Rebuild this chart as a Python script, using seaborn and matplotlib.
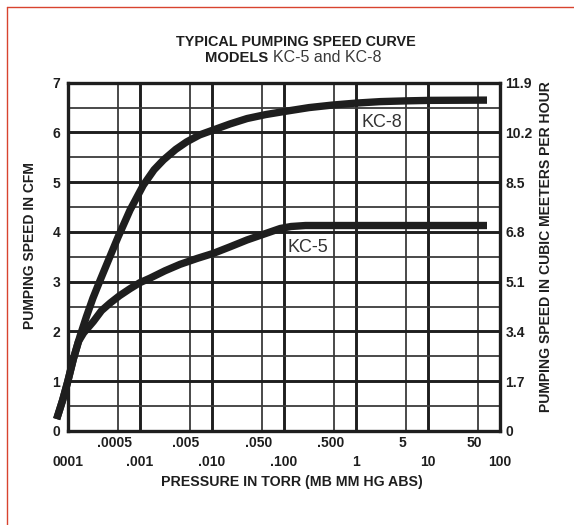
import numpy as np
import pandas as pd
import matplotlib
matplotlib.use("Agg")
import matplotlib.pyplot as plt
import matplotlib.transforms as mtransforms
from matplotlib.lines import Line2D
import seaborn as sns

# values
kc8_torr = [7.03e-5, 8.51e-5, 1.0e-4, 1.20e-4, 1.48e-4, 1.82e-4, 2.24e-4, 2.82e-4,
            3.55e-4, 5.01e-4, 7.33e-4, 1.12e-3, 1.58e-3, 2.14e-3, 3.16e-3, 4.47e-3,
            6.76e-3, 1.05e-2, 1.78e-2, 3.09e-2, 5.62e-2, 0.1, 0.224, 0.468,
            1.0, 2.19, 5.01, 10.7, 66]
kc8_cfm = [0.24, 0.62, 0.99, 1.45, 1.9, 2.3, 2.67, 3.03,
           3.38, 3.9, 4.44, 4.94, 5.25, 5.45, 5.66, 5.81,
           5.95, 6.05, 6.17, 6.28, 6.36, 6.42, 6.5, 6.55,
           6.59, 6.62, 6.635, 6.645, 6.65]

kc5_torr = [7.03e-5, 8.51e-5, 1.0e-4, 1.20e-4, 1.41e-4, 1.66e-4, 2.27e-4, 2.95e-4,
            3.87e-4, 5.25e-4, 7.33e-4, 1.0e-3, 1.38e-3, 2.24e-3, 3.63e-3, 6.31e-3,
            1.05e-2, 1.78e-2, 3.09e-2, 5.62e-2, 8.91e-2, 0.126, 0.2, 1.0, 66]
kc5_cfm = [0.24, 0.62, 0.99, 1.45, 1.8, 1.97, 2.2, 2.42,
           2.57, 2.72, 2.86, 2.98, 3.07, 3.22, 3.35, 3.47,
           3.57, 3.7, 3.84, 3.97, 4.07, 4.11, 4.13, 4.13, 4.13]

major_x = [1e-4, 1e-3, 1e-2, 1e-1, 1, 10, 100]
major_x_labels = ["0001", ".001", ".010", ".100", "1", "10", "100"]
minor_x = [5e-4, 5e-3, 5e-2, 0.5, 5, 50]
minor_x_labels = [".0005", ".005", ".050", ".500", "5", "50"]
cfm_ticks = [0, 1, 2, 3, 4, 5, 6, 7]
cmh_labels = ["0", "1.7", "3.4", "5.1", "6.8", "8.5", "10.2", "11.9"]

df = pd.concat([
    pd.DataFrame({"torr": kc8_torr, "cfm": kc8_cfm, "model": "KC-8"}),
    pd.DataFrame({"torr": kc5_torr, "cfm": kc5_cfm, "model": "KC-5"}),
])

sns.set_theme(style="white")
plt.rcParams["font.family"] = ["Liberation Sans", "DejaVu Sans"]
ink = "#1e1e1e"

fig = plt.figure(figsize=(5.74, 5.25), dpi=100)
ax = fig.add_axes([67.7 / 574, 1 - 431 / 525, (500 - 67.7) / 574, (431 - 82.7) / 525])
ax.set_xscale("log")
ax.set_xlim(1e-4, 100)
ax.set_ylim(0, 7)
ax.set_axisbelow(True)

sns.lineplot(data=df, x="torr", y="cfm", hue="model", palette=[ink, ink],
             linewidth=5.3, legend=False, ax=ax, sort=True)
for ln in ax.lines:
    ln.set_clip_on(False)
    ln.set_solid_capstyle("butt")
    ln.set_solid_joinstyle("round")

# grid
ax.set_xticks(major_x)
ax.set_xticklabels(major_x_labels)
ax.set_xticks(minor_x, minor=True)
ax.set_xticklabels(minor_x_labels, minor=True)
ax.set_yticks(cfm_ticks)
ax.set_yticklabels([str(v) for v in cfm_ticks])
ax.set_yticks([v + 0.5 for v in cfm_ticks[:-1]], minor=True)
ax.grid(True, which="major", color=ink, linewidth=2.1)
ax.grid(True, which="minor", color="#3a3a3a", linewidth=1.3)

ax.tick_params(axis="x", which="major", direction="out", length=11, width=2.2,
               color=ink, pad=6.5, labelsize=10, labelcolor=ink)
ax.tick_params(axis="x", which="minor", length=0, pad=3.5, labelsize=10, labelcolor=ink)
ax.tick_params(axis="y", which="both", length=0, pad=5.5, labelsize=10, labelcolor=ink)
for lab in ax.get_xticklabels() + ax.get_xticklabels(minor=True) + ax.get_yticklabels():
    lab.set_fontweight("bold")
shift = mtransforms.ScaledTranslation(-4 / 100, 0, fig.dpi_scale_trans)
for lab in ax.get_xticklabels(minor=True):
    lab.set_transform(lab.get_transform() + shift)

for sp in ax.spines.values():
    sp.set_visible(True)
    sp.set_color(ink)
    sp.set_linewidth(2.4)

ax.set_xlabel("PRESSURE IN TORR (MB MM HG ABS)", fontsize=10.2, fontweight="bold", color=ink)
ax.xaxis.label.set_va("center")
ax.xaxis.set_label_coords(0.519, -0.1456)
ax.set_ylabel("PUMPING SPEED IN CFM", fontsize=10, fontweight="bold", color=ink)
ax.yaxis.label.set_rotation_mode("default")
ax.yaxis.label.set_va("center")
ax.yaxis.set_label_coords(-0.087, 0.531)

ax2 = ax.twinx()
ax2.set_ylim(0, 7)
ax2.set_yticks(cfm_ticks)
ax2.set_yticklabels(cmh_labels)
ax2.tick_params(axis="y", length=0, pad=4, labelsize=10, labelcolor=ink)
for lab in ax2.get_yticklabels():
    lab.set_fontweight("bold")
for sp in ax2.spines.values():
    sp.set_visible(False)
ax2.grid(False)
ax2.set_ylabel("PUMPING SPEED IN CUBIC MEETERS PER HOUR", fontsize=10.1,
               fontweight="bold", color=ink)
ax2.yaxis.label.set_rotation_mode("default")
ax2.yaxis.label.set_va("center")
ax2.yaxis.set_label_coords((545.7 - 67.7) / 432.3, (431 - 246.5) / 348.3)

# curve labels
ax.text(2.3, 6.21, "KC-8", fontsize=13, color="#333333", ha="center", va="center")
ax.text(0.218, 3.68, "KC-5", fontsize=13, color="#333333", ha="center", va="center")

# title
fig.text(296 / 574, 1 - 42 / 525, "TYPICAL PUMPING SPEED CURVE", ha="center", va="center",
         fontsize=10.4, fontweight="bold", color=ink)
fig.text(268.5 / 574, 1 - 57.5 / 525, "MODELS", ha="right", va="center",
         fontsize=10.6, fontweight="bold", color=ink)
fig.text(273 / 574, 1 - 57.5 / 525, "KC-5 and KC-8", ha="left", va="center",
         fontsize=11.5, color="#3a3a3a")

# red frame (left and top edges)
fx = 6.7 / 574
fy = 1 - 7.3 / 525
fig.add_artist(Line2D([fx, fx], [0, fy], transform=fig.transFigure, color="#d8432f", lw=1.0))
fig.add_artist(Line2D([fx, 1], [fy, fy], transform=fig.transFigure, color="#d8432f", lw=1.0))

fig.savefig("out.png", dpi=100)
